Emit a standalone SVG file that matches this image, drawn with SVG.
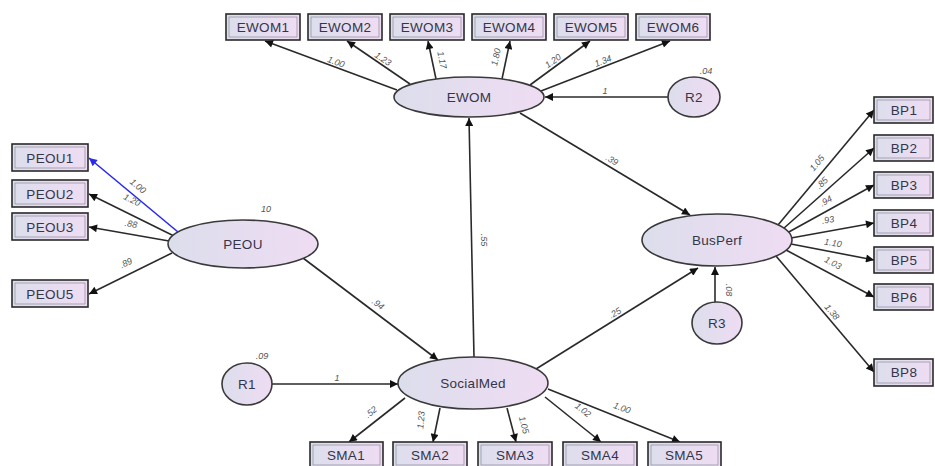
<svg xmlns="http://www.w3.org/2000/svg" width="935" height="466" viewBox="0 0 935 466">
<defs>
<linearGradient id="g" x1="0" y1="0" x2="1" y2="0">
<stop offset="0" stop-color="#dcdeec"/>
<stop offset="1" stop-color="#efdcf3"/>
</linearGradient>
<marker id="ah" viewBox="0 0 10 10" refX="10" refY="5" markerWidth="11" markerHeight="8" markerUnits="userSpaceOnUse" orient="auto">
<path d="M0,0 L10,5 L0,10 z" fill="#111"/>
</marker>
<marker id="ahb" viewBox="0 0 10 10" refX="10" refY="5" markerWidth="11" markerHeight="8" markerUnits="userSpaceOnUse" orient="auto">
<path d="M0,0 L10,5 L0,10 z" fill="#2a2aee"/>
</marker>
</defs>
<style>
.box{fill:url(#g);stroke:#2a2a2a;stroke-width:1.6}
.inb{fill:none;stroke:#8a8a9a;stroke-width:0.7}
.ell{fill:url(#g);stroke:#3a3a3a;stroke-width:1.6}
.t{font-family:"Liberation Sans",Arial,sans-serif;font-size:13.5px;fill:#35354a;text-anchor:middle;dominant-baseline:central;letter-spacing:0.3px}
.l{font-family:"Liberation Sans",Arial,sans-serif;font-size:9px;font-style:italic;fill:#555;text-anchor:middle;dominant-baseline:central}
.c{stroke:#2a2a2a;stroke-width:1.6;fill:none;marker-end:url(#ah)}
.cb{stroke:#2a2aee;stroke-width:1.6;fill:none;marker-end:url(#ahb)}
</style>
<rect width="935" height="466" fill="#fff"/>

<g id="connectors">
<line class="c" x1="397" y1="90" x2="265" y2="41"/>
<line class="c" x1="410" y1="84" x2="347" y2="41"/>
<line class="c" x1="436" y1="79" x2="428" y2="41"/>
<line class="c" x1="502" y1="79" x2="510" y2="41"/>
<line class="c" x1="530" y1="85" x2="590" y2="41"/>
<line class="c" x1="541" y1="91" x2="670" y2="41"/>
<line class="c" x1="668" y1="97" x2="545" y2="97"/>
<line class="c" x1="520" y1="113" x2="690" y2="215"/>
<line class="cb" x1="178" y1="232" x2="89" y2="158"/>
<line class="c" x1="174" y1="236" x2="89" y2="194"/>
<line class="c" x1="169" y1="241" x2="89" y2="227"/>
<line class="c" x1="172" y1="253" x2="89" y2="294"/>
<line class="c" x1="303" y1="258" x2="438" y2="360"/>
<line class="c" x1="778" y1="225" x2="874" y2="110"/>
<line class="c" x1="783" y1="229" x2="874" y2="148"/>
<line class="c" x1="787" y1="233" x2="874" y2="185"/>
<line class="c" x1="791" y1="238" x2="874" y2="223"/>
<line class="c" x1="791" y1="244" x2="874" y2="260"/>
<line class="c" x1="786" y1="250" x2="874" y2="297"/>
<line class="c" x1="776" y1="256" x2="874" y2="372"/>
<line class="c" x1="715" y1="302" x2="715" y2="267"/>
<line class="c" x1="272" y1="384" x2="398" y2="384"/>
<line class="c" x1="474" y1="357" x2="469" y2="118"/>
<line class="c" x1="536" y1="369" x2="698" y2="268"/>
<line class="c" x1="405" y1="398" x2="349" y2="442"/>
<line class="c" x1="440" y1="408" x2="433" y2="442"/>
<line class="c" x1="507" y1="408" x2="516" y2="442"/>
<line class="c" x1="545" y1="397" x2="601" y2="442"/>
<line class="c" x1="548" y1="389" x2="680" y2="442"/>

<text class="l" transform="translate(336,62) rotate(20)">1.00</text>
<text class="l" transform="translate(383,59) rotate(34)">1.23</text>
<text class="l" transform="translate(442,60) rotate(78)">1.17</text>
<text class="l" transform="translate(496,57) rotate(-78)">1.80</text>
<text class="l" transform="translate(553,61) rotate(-36)">1.20</text>
<text class="l" transform="translate(603,61) rotate(-21)">1.34</text>
<text class="l" x="605" y="91">1</text>
<text class="l" x="706" y="71">.04</text>
<text class="l" transform="translate(612,160) rotate(31)">.39</text>
<text class="l" transform="translate(484,240) rotate(90)">.55</text>
<text class="l" transform="translate(138,186) rotate(40)">1.00</text>
<text class="l" transform="translate(132,200) rotate(27)">1.20</text>
<text class="l" transform="translate(131,224) rotate(10)">.88</text>
<text class="l" transform="translate(126,263) rotate(-26)">.89</text>
<text class="l" x="266" y="209">10</text>
<text class="l" transform="translate(378,304) rotate(37)">.94</text>
<text class="l" transform="translate(615,313) rotate(-32)">.25</text>
<text class="l" transform="translate(729,290) rotate(90)">.08</text>
<text class="l" transform="translate(817,163) rotate(-50)">1.05</text>
<text class="l" transform="translate(822,183) rotate(-44)">.85</text>
<text class="l" transform="translate(826,201) rotate(-30)">.94</text>
<text class="l" transform="translate(828,220) rotate(-10)">.93</text>
<text class="l" transform="translate(833,243) rotate(10)">1.10</text>
<text class="l" transform="translate(833,263) rotate(28)">1.03</text>
<text class="l" transform="translate(832,312) rotate(50)">1.38</text>
<text class="l" x="262" y="356">.09</text>
<text class="l" x="337" y="378">1</text>
<text class="l" transform="translate(371,412) rotate(-38)">.52</text>
<text class="l" transform="translate(421,420) rotate(-85)">1.23</text>
<text class="l" transform="translate(524,425) rotate(75)">1.05</text>
<text class="l" transform="translate(583,410) rotate(38)">1.02</text>
<text class="l" transform="translate(622,408) rotate(20)">1.00</text>
</g>

<g id="EWOM1"><rect class="box" x="226" y="14" width="74" height="26"/><rect class="inb" x="229" y="17" width="68" height="20"/><text class="t" x="263" y="27">EWOM1</text></g>
<g id="EWOM2"><rect class="box" x="308" y="14" width="74" height="26"/><rect class="inb" x="311" y="17" width="68" height="20"/><text class="t" x="345" y="27">EWOM2</text></g>
<g id="EWOM3"><rect class="box" x="390" y="14" width="74" height="26"/><rect class="inb" x="393" y="17" width="68" height="20"/><text class="t" x="427" y="27">EWOM3</text></g>
<g id="EWOM4"><rect class="box" x="472" y="14" width="74" height="26"/><rect class="inb" x="475" y="17" width="68" height="20"/><text class="t" x="509" y="27">EWOM4</text></g>
<g id="EWOM5"><rect class="box" x="554" y="14" width="74" height="26"/><rect class="inb" x="557" y="17" width="68" height="20"/><text class="t" x="591" y="27">EWOM5</text></g>
<g id="EWOM6"><rect class="box" x="636" y="14" width="74" height="26"/><rect class="inb" x="639" y="17" width="68" height="20"/><text class="t" x="673" y="27">EWOM6</text></g>

<g id="PEOU1"><rect class="box" x="12" y="144" width="76" height="27"/><rect class="inb" x="15" y="147" width="70" height="21"/><text class="t" x="50" y="158">PEOU1</text></g>
<g id="PEOU2"><rect class="box" x="12" y="180" width="76" height="27"/><rect class="inb" x="15" y="183" width="70" height="21"/><text class="t" x="50" y="194">PEOU2</text></g>
<g id="PEOU3"><rect class="box" x="12" y="213" width="76" height="27"/><rect class="inb" x="15" y="216" width="70" height="21"/><text class="t" x="50" y="227">PEOU3</text></g>
<g id="PEOU5"><rect class="box" x="12" y="280" width="76" height="27"/><rect class="inb" x="15" y="283" width="70" height="21"/><text class="t" x="50" y="294">PEOU5</text></g>

<g id="BP1"><rect class="box" x="874" y="97" width="59" height="26"/><rect class="inb" x="877" y="100" width="53" height="20"/><text class="t" x="904" y="110">BP1</text></g>
<g id="BP2"><rect class="box" x="874" y="135" width="59" height="26"/><rect class="inb" x="877" y="138" width="53" height="20"/><text class="t" x="904" y="148">BP2</text></g>
<g id="BP3"><rect class="box" x="874" y="172" width="59" height="26"/><rect class="inb" x="877" y="175" width="53" height="20"/><text class="t" x="904" y="185">BP3</text></g>
<g id="BP4"><rect class="box" x="874" y="210" width="59" height="26"/><rect class="inb" x="877" y="213" width="53" height="20"/><text class="t" x="904" y="223">BP4</text></g>
<g id="BP5"><rect class="box" x="874" y="247" width="59" height="26"/><rect class="inb" x="877" y="250" width="53" height="20"/><text class="t" x="904" y="260">BP5</text></g>
<g id="BP6"><rect class="box" x="874" y="284" width="59" height="26"/><rect class="inb" x="877" y="287" width="53" height="20"/><text class="t" x="904" y="297">BP6</text></g>
<g id="BP8"><rect class="box" x="874" y="359" width="59" height="27"/><rect class="inb" x="877" y="362" width="53" height="21"/><text class="t" x="904" y="372">BP8</text></g>

<g id="SMA1"><rect class="box" x="310" y="442" width="73" height="26"/><rect class="inb" x="313" y="445" width="67" height="20"/><text class="t" x="346" y="455">SMA1</text></g>
<g id="SMA2"><rect class="box" x="393" y="442" width="74" height="26"/><rect class="inb" x="396" y="445" width="68" height="20"/><text class="t" x="430" y="455">SMA2</text></g>
<g id="SMA3"><rect class="box" x="478" y="442" width="74" height="26"/><rect class="inb" x="481" y="445" width="68" height="20"/><text class="t" x="515" y="455">SMA3</text></g>
<g id="SMA4"><rect class="box" x="563" y="442" width="74" height="26"/><rect class="inb" x="566" y="445" width="68" height="20"/><text class="t" x="600" y="455">SMA4</text></g>
<g id="SMA5"><rect class="box" x="648" y="442" width="73" height="26"/><rect class="inb" x="651" y="445" width="67" height="20"/><text class="t" x="684" y="455">SMA5</text></g>

<g id="EWOM"><ellipse class="ell" cx="469" cy="97" rx="75" ry="20"/><text class="t" x="469" y="97">EWOM</text></g>
<g id="R2"><ellipse class="ell" cx="694" cy="97" rx="26" ry="20"/><text class="t" x="694" y="97">R2</text></g>
<g id="PEOU"><ellipse class="ell" cx="243" cy="244" rx="75" ry="24"/><text class="t" x="243" y="244">PEOU</text></g>
<g id="BusPerf"><ellipse class="ell" cx="717" cy="240" rx="75" ry="26"/><text class="t" x="717" y="240">BusPerf</text></g>
<g id="R3"><ellipse class="ell" cx="717" cy="323" rx="25" ry="21"/><text class="t" x="717" y="323">R3</text></g>
<g id="SocialMed"><ellipse class="ell" cx="473" cy="383" rx="75" ry="26"/><text class="t" x="473" y="383">SocialMed</text></g>
<g id="R1"><ellipse class="ell" cx="247" cy="384" rx="25" ry="21"/><text class="t" x="247" y="384">R1</text></g>
</svg>
